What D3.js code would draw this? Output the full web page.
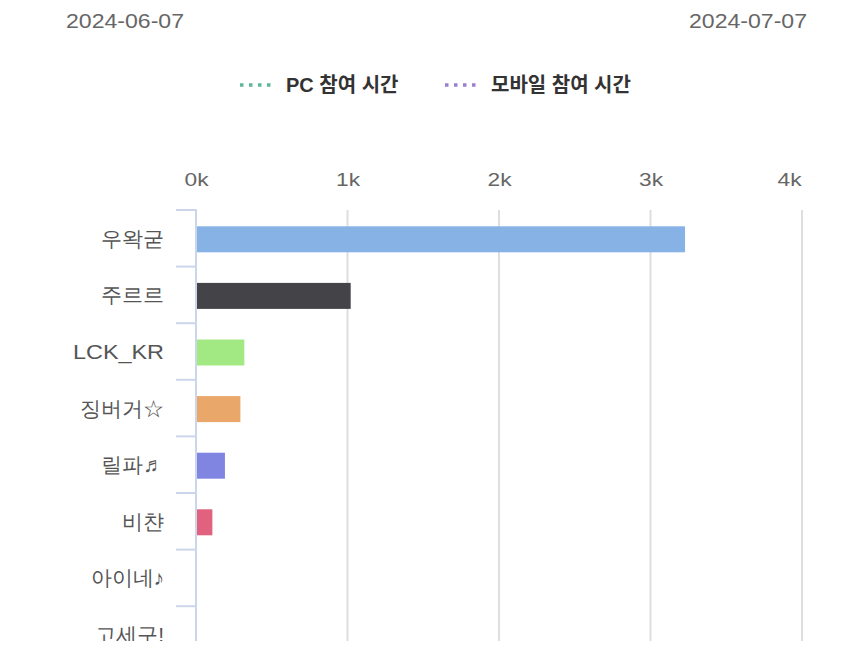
<!DOCTYPE html>
<html>
<head>
<meta charset="utf-8">
<script src="https://cdn.jsdelivr.net/npm/d3@7"></script>
<style>
html,body{margin:0;padding:0;background:#fff;}
svg{display:block;font-family:"Liberation Sans",Arial,"Noto Sans CJK KR",sans-serif;}
</style>
</head>
<body>
<svg id="chart" width="850" height="660"></svg>
<script>
const dateRange = ["2024-06-07", "2024-07-07"];
const legendLabels = ["PC 참여 시간", "모바일 참여 시간"];
const legendColors = ["#5db89b", "#9a7fd1"];
const categories = ["우왁굳", "주르르", "LCK_KR", "징버거☆", "릴파♬", "비챤", "아이네♪", "고세구!"];
const values = [3228, 1021, 319, 293, 191, 108, 0, 0];
const barColors = ["#86b2e5", "#434348", "#a3e983", "#e9a86a", "#7f85e1", "#e0627f", "#e4d354", "#2b908f"];
const xTicks = [0, 1000, 2000, 3000, 4000];

const svg = d3.select("#chart");

// header dates
svg.append("text").attr("x", 66).attr("y", 28).attr("font-size", 21).attr("fill", "#666")
  .attr("textLength", 118).attr("lengthAdjust", "spacingAndGlyphs").text(dateRange[0]);
svg.append("text").attr("x", 807).attr("y", 28).attr("text-anchor", "end").attr("font-size", 21).attr("fill", "#666")
  .attr("textLength", 118).attr("lengthAdjust", "spacingAndGlyphs").text(dateRange[1]);

// legend
const legendX = [240, 445];
legendLabels.forEach((l, i) => {
  const g = svg.append("g").attr("transform", `translate(${legendX[i]},85)`);
  g.append("line").attr("x1", 0).attr("x2", 31).attr("y1", 0).attr("y2", 0)
    .attr("stroke", legendColors[i]).attr("stroke-width", 3.5).attr("stroke-dasharray", "3.5,5.5");
  g.append("text").attr("x", 46).attr("y", 7).attr("font-size", 20).attr("font-weight", "bold")
    .attr("fill", "#333").text(l);
});

const x = d3.scaleLinear().domain([0, 4000]).range([196, 802]);
const step = 56.6;
const y = d3.scaleBand().domain(categories).range([210, 210 + step * categories.length]).padding(0);

const clip = svg.append("defs").append("clipPath").attr("id", "clip");
clip.append("rect").attr("x", 0).attr("y", 0).attr("width", 850).attr("height", 641);

const plot = svg.append("g").attr("clip-path", "url(#clip)");

// gridlines
plot.selectAll(".grid").data(xTicks.slice(1)).join("line")
  .attr("x1", d => x(d)).attr("x2", d => x(d))
  .attr("y1", 210).attr("y2", 700)
  .attr("stroke", "#dedede").attr("stroke-width", 2);

// x axis labels on top
const xAxis = d3.axisTop(x).tickValues(xTicks).tickFormat(d => (d / 1000) + "k").tickSize(0).tickPadding(0);
const xg = svg.append("g").attr("transform", "translate(0,186)").call(xAxis);
xg.select(".domain").remove();
xg.selectAll("text").attr("font-size", 19).attr("fill", "#666").attr("font-family", null)
  .attr("textLength", 24).attr("lengthAdjust", "spacingAndGlyphs");
// keep last label within the plot edge
xg.selectAll(".tick").filter(d => d === xTicks[xTicks.length - 1]).select("text")
  .attr("text-anchor", "end").attr("x", -1);

// bars
const barH = 26;
plot.selectAll(".bar").data(categories).join("rect")
  .attr("x", x(0) + 1)
  .attr("y", d => y(d) + (y.bandwidth() - barH) / 2 + 1)
  .attr("width", (d, i) => Math.max(0, x(values[i]) - x(0) - 1))
  .attr("height", barH)
  .attr("fill", (d, i) => barColors[i]);

// category axis labels
const yAxis = d3.axisLeft(y).tickSize(0).tickPadding(32);
const yg = plot.append("g").attr("transform", "translate(196,0)").call(yAxis);
yg.select(".domain").remove();
yg.selectAll("text").attr("font-size", 21).attr("fill", "#555").attr("font-family", null).attr("dy", "0.36em");
yg.selectAll("text").filter(d => d === "LCK_KR").attr("textLength", 91).attr("lengthAdjust", "spacingAndGlyphs");

const bounds = d3.range(categories.length + 1).map(i => 210 + i * step);
plot.selectAll(".ytick").data(bounds).join("line")
  .attr("x1", 176).attr("x2", 196).attr("y1", d => d).attr("y2", d => d)
  .attr("stroke", "#ccd6eb").attr("stroke-width", 2);
plot.append("line").attr("x1", 196).attr("x2", 196).attr("y1", 209).attr("y2", 700)
  .attr("stroke", "#ccd6eb").attr("stroke-width", 2);
</script>
</body>
</html>
